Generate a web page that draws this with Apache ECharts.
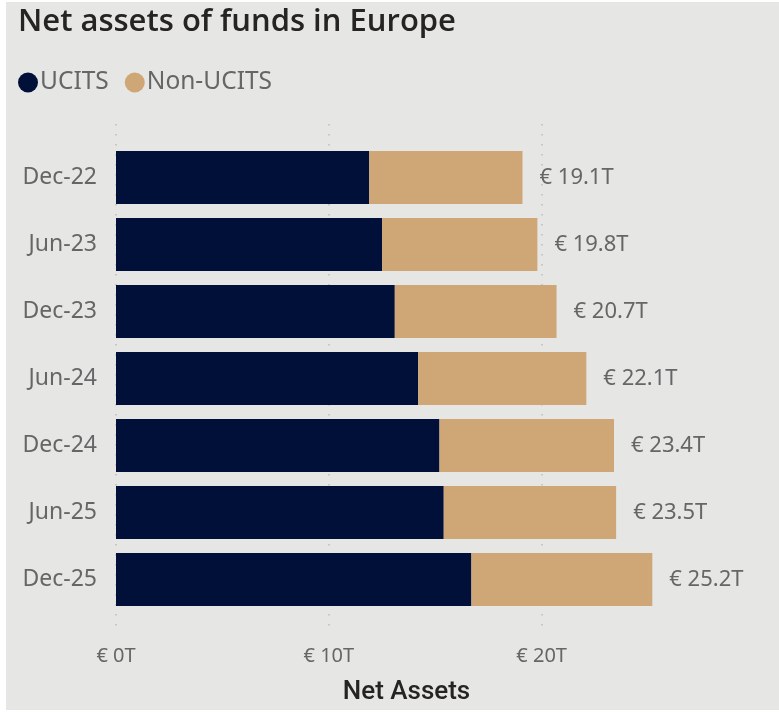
<!DOCTYPE html>
<html>
<head>
<meta charset="utf-8">
<script src="https://cdn.jsdelivr.net/npm/echarts@6/dist/echarts.min.js"></script>
<style>
  html, body { margin: 0; padding: 0; background: #ffffff; }
  #chart { position: absolute; left: 6px; top: 2px; width: 773px; height: 708px; background: #e6e6e4; }
</style>
</head>
<body>
<div id="chart"></div>
<script>
// Half-year periods, top to bottom
const periods = ['Dec-22', 'Jun-23', 'Dec-23', 'Jun-24', 'Dec-24', 'Jun-25', 'Dec-25'];
// Net assets in EUR trillions
const ucits = [11.9, 12.5, 13.1, 14.2, 15.2, 15.4, 16.7];
const nonUcits = [7.2, 7.3, 7.6, 7.9, 8.2, 8.1, 8.5];
const totals = [19.1, 19.8, 20.7, 22.1, 23.4, 23.5, 25.2];
const axisTicks = [0, 10, 20];

const chart = echarts.init(document.getElementById('chart'), null, { renderer: 'canvas' });

const AXIS_MAX = 27.3;
const PLOT_LEFT = 110;   // inside the chart div (div is offset 6px)
const PLOT_W = 581;
const labelGray = '#666666';
const font = '"Noto Sans", "Open Sans", sans-serif';
const headFont = '"Open Sans", "Noto Sans", sans-serif';

const option = {
  animation: false,
  title: {
    text: 'Net assets of funds in Europe',
    left: 7, top: 0,
    textStyle: { fontFamily: headFont, fontWeight: 600, fontSize: 31, color: '#252423' }
  },
  legend: {
    left: 7, top: 63,
    icon: 'circle',
    itemWidth: 20, itemHeight: 20, itemGap: 16,
    textStyle: { fontFamily: font, fontSize: 24.5, color: labelGray, padding: [0, 0, 0, -3] },
    data: ['UCITS', 'Non-UCITS']
  },
  grid: [
    // gridline frame (taller than the bars)
    { left: PLOT_LEFT, width: PLOT_W, top: 122, height: 511 },
    // bar area
    { left: PLOT_LEFT, width: PLOT_W, top: 142, height: 469 }
  ],
  xAxis: [
    {
      gridIndex: 0, type: 'value', min: 0, max: AXIS_MAX, interval: 10,
      axisLine: { show: false }, axisTick: { show: false },
      splitLine: { show: true, showMaxLine: false, lineStyle: { color: '#bdbdbd', width: 1.5, type: [1.5, 8.5] } },
      axisLabel: {
        margin: 14, fontFamily: font, fontSize: 20, color: labelGray,
        formatter: v => axisTicks.includes(v) ? '€ ' + v + 'T' : ''
      },
      name: 'Net Assets', nameLocation: 'middle', nameGap: 47,
      nameTextStyle: { fontFamily: 'Roboto, "Noto Sans", sans-serif', fontWeight: 500, fontSize: 26, color: '#252423' }
    },
    {
      gridIndex: 1, type: 'value', min: 0, max: AXIS_MAX, interval: 10,
      show: false, splitLine: { show: false }
    }
  ],
  yAxis: [
    { gridIndex: 0, type: 'category', data: periods, show: false },
    {
      gridIndex: 1, type: 'category', data: periods, inverse: true,
      axisLine: { show: false }, axisTick: { show: false },
      axisLabel: { margin: 19, fontFamily: font, fontSize: 23, color: labelGray }
    }
  ],
  series: [
    {
      name: 'UCITS', type: 'bar', stack: 'assets',
      xAxisIndex: 1, yAxisIndex: 1,
      barCategoryGap: '21%',
      itemStyle: { color: '#001038' },
      data: ucits
    },
    {
      name: 'Non-UCITS', type: 'bar', stack: 'assets',
      xAxisIndex: 1, yAxisIndex: 1,
      barCategoryGap: '21%',
      itemStyle: { color: '#cfa676' },
      label: {
        show: true, position: 'right', distance: 17,
        fontFamily: font, fontSize: 22, color: labelGray,
        formatter: p => '€ ' + totals[p.dataIndex].toFixed(1) + 'T'
      },
      data: nonUcits
    }
  ]
};

chart.setOption(option);
</script>
</body>
</html>
